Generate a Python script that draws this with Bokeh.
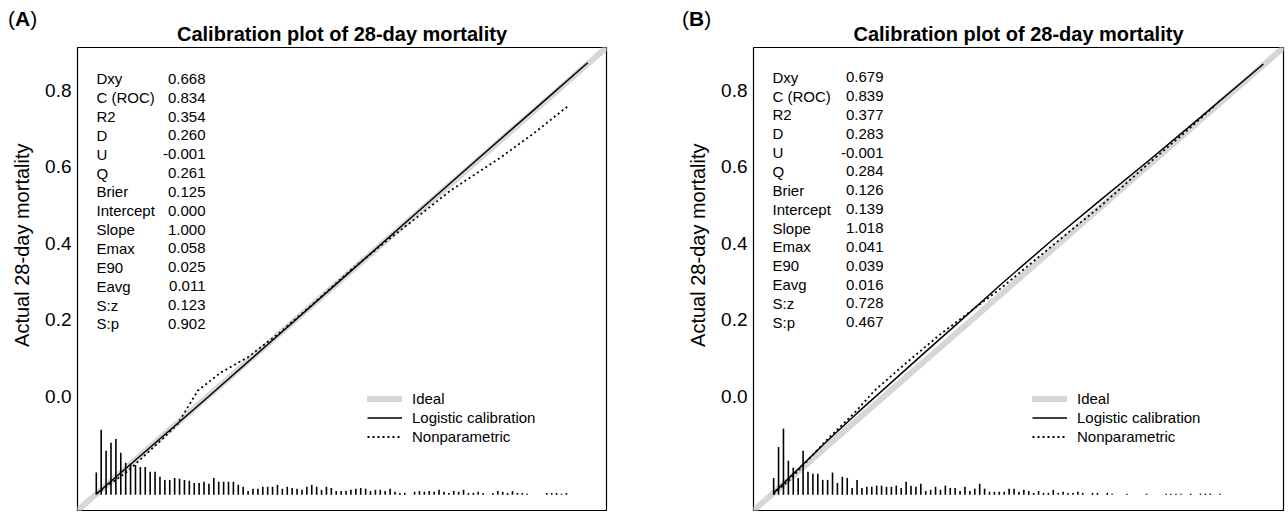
import math
from bokeh.plotting import figure
from bokeh.models import (ColumnDataSource, Legend, LegendItem, Range1d,
                          FixedTicker, PrintfTickFormatter, Title, Div)
from bokeh.layouts import row, column
from bokeh.embed import file_html
from bokeh.resources import INLINE
from bokeh.core.properties import value

# ---------------- data ----------------
title_text = "Calibration plot of 28-day mortality"
y_label = "Actual 28-day mortality"
panel_letters = ["A", "B"]
y_ticks = [0.0, 0.2, 0.4, 0.6, 0.8]
axis_lo, axis_hi = -0.298, 0.912

stat_names = ["Dxy", "C (ROC)", "R2", "D", "U", "Q", "Brier", "Intercept",
              "Slope", "Emax", "E90", "Eavg", "S:z", "S:p"]
stats_a = ["0.668", "0.834", "0.354", "0.260", "-0.001", "0.261", "0.125",
           "0.000", "1.000", "0.058", "0.025", "0.011", "0.123", "0.902"]
stats_b = ["0.679", "0.839", "0.377", "0.283", "-0.001", "0.284", "0.126",
           "0.139", "1.018", "0.041", "0.039", "0.016", "0.728", "0.467"]

ideal_x = [-0.40, 1.00]
ideal_y = [-0.40, 1.00]

# Panel A curves
logit_a_x = [-0.255, -0.150, 0.000, 0.150, 0.300, 0.450, 0.600, 0.750, 0.869]
logit_a_y = [-0.255, -0.151, -0.002, 0.149, 0.300, 0.452, 0.603, 0.753, 0.872]
nonpar_a_x = [-0.253, -0.192, -0.177, -0.101, -0.069, -0.023, 0.029, 0.091,
              0.166, 0.242, 0.326, 0.402, 0.475, 0.555, 0.669, 0.745, 0.825]
nonpar_a_y = [-0.253, -0.203, -0.189, -0.108, -0.072, 0.015, 0.062, 0.102,
              0.168, 0.243, 0.329, 0.400, 0.465, 0.538, 0.624, 0.687, 0.760]

# Panel B curves
logit_b_x = [-0.250, -0.136, -0.061, 0.015, 0.092, 0.168, 0.266, 0.380,
             0.494, 0.608, 0.723, 0.866]
logit_b_y = [-0.250, -0.123, -0.043, 0.035, 0.114, 0.191, 0.292, 0.405,
             0.513, 0.620, 0.730, 0.869]
nonpar_b_x = [-0.252, -0.214, -0.136, -0.061, -0.022, 0.054, 0.129, 0.229,
              0.266, 0.380, 0.494, 0.608, 0.684, 0.757]
nonpar_b_y = [-0.255, -0.216, -0.120, -0.035, 0.015, 0.091, 0.163, 0.250,
              0.282, 0.390, 0.497, 0.613, 0.687, 0.762]

# Distribution of predicted risk (spike heights)
spike_base = -0.257
spike_step = 0.0112
spike_start_a = -0.255
spike_start_b = -0.252
spikes_a = [0.058, 0.170, 0.115, 0.136, 0.146, 0.110, 0.084, 0.081, 0.078, 0.073,
            0.073, 0.060, 0.060, 0.047, 0.039, 0.039, 0.044, 0.042, 0.039, 0.037,
            0.031, 0.031, 0.034, 0.029, 0.044, 0.034, 0.034, 0.034, 0.034, 0.026,
            0.021, 0.010, 0.016, 0.016, 0.021, 0.021, 0.021, 0.026, 0.016, 0.021,
            0.018, 0.016, 0.013, 0.021, 0.026, 0.021, 0.013, 0.021, 0.018, 0.010,
            0.010, 0.010, 0.013, 0.016, 0.018, 0.016, 0.010, 0.013,
            0.013, 0.010, 0.016, 0.008, 0.005, 0.005, 0.000, 0.008, 0.010, 0.008,
            0.010, 0.008, 0.013, 0.008, 0.005, 0.010, 0.008, 0.013, 0.005, 0.005,
            0.008, 0.005, 0.000, 0.005, 0.010, 0.008, 0.005, 0.010, 0.005, 0.005,
            0.003, 0.000, 0.000, 0.000, 0.005, 0.005, 0.005, 0.003, 0.005]
spikes_b = [0.044, 0.125, 0.173, 0.089, 0.071, 0.044, 0.115, 0.060, 0.055, 0.055,
            0.039, 0.039, 0.058, 0.031, 0.047, 0.044, 0.018, 0.039, 0.018, 0.021,
            0.021, 0.024, 0.024, 0.021, 0.021, 0.024, 0.018, 0.034, 0.024, 0.021,
            0.029, 0.010, 0.013, 0.021, 0.013, 0.024, 0.018, 0.018, 0.010, 0.021,
            0.010, 0.016, 0.029, 0.016, 0.008, 0.008, 0.008, 0.008, 0.016, 0.016,
            0.008, 0.013, 0.010, 0.005, 0.010, 0.005, 0.005, 0.013,
            0.005, 0.008, 0.005, 0.005, 0.008, 0.005, 0.000, 0.005, 0.005, 0.000,
            0.005, 0.003, 0.000, 0.000, 0.003, 0.000, 0.000, 0.000, 0.003, 0.000,
            0.000, 0.000, 0.003, 0.003, 0.003, 0.003, 0.000, 0.003, 0.000, 0.003,
            0.003, 0.003, 0.000, 0.003]

FONT = "Liberation Sans"
FRAME_H = 463


def make_panel(stats, lx, ly, nx, ny, spikes, spike_start,
               fw, border_left, border_right, stat_top, val_right, leg_x):
    p = figure(frame_width=fw, frame_height=FRAME_H,
               min_border_left=border_left, min_border_right=border_right,
               min_border_top=47, min_border_bottom=2,
               x_range=Range1d(axis_lo, axis_hi), y_range=Range1d(axis_lo, axis_hi),
               x_axis_location=None, toolbar_location=None, output_backend="svg",
               title=title_text)
    p.title.align = "center"
    p.title.text_font = FONT
    p.title.text_font_size = "20px"
    p.title.text_font_style = "bold"
    p.title.text_color = "black"
    p.title.standoff = 5
    p.grid.visible = False
    p.outline_line_color = "black"
    p.outline_line_width = 1.2
    p.outline_line_alpha = 1.0
    p.background_fill_color = "white"
    p.border_fill_color = None

    ax = p.yaxis[0]
    ax.ticker = FixedTicker(ticks=y_ticks)
    ax.formatter = PrintfTickFormatter(format="%.1f")
    ax.axis_line_color = None
    ax.major_tick_line_color = None
    ax.minor_tick_line_color = None
    ax.major_tick_in = 0
    ax.major_tick_out = 0
    ax.major_label_standoff = 6
    ax.major_label_text_font = FONT
    ax.major_label_text_font_size = "19px"
    ax.major_label_text_color = "black"

    # y-axis title (left side, shifted upward like the original)
    p.add_layout(Title(text=y_label, align="right", offset=96,
                       vertical_align="top", standoff=16,
                       text_font=FONT, text_font_size="20px",
                       text_font_style="normal", text_color="black"), "left")

    span = axis_hi - axis_lo
    ppx = fw / span          # pixels per unit (x)
    ppy = FRAME_H / span     # pixels per unit (y)

    # ideal line
    r_ideal = p.line(ideal_x, ideal_y, line_color="#d6d6d6", line_width=6,
                     line_cap="round")
    # spikes
    sx = [spike_start + i * spike_step for i in range(len(spikes))]
    src = ColumnDataSource(dict(x=sx, y0=[spike_base] * len(spikes),
                                y1=[spike_base + h for h in spikes]))
    p.segment(x0="x", y0="y0", x1="x", y1="y1", source=src,
              line_color="black", line_width=1.6)
    # curves
    r_log = p.line(lx, ly, line_color="black", line_width=1.5)
    r_np = p.line(nx, ny, line_color="black", line_width=1.8, line_dash="2 3")

    # statistics block
    ys = [axis_hi - (stat_top + i * 18.85) / ppy for i in range(len(stat_names))]
    x_name = axis_lo + 19 / ppx
    x_val = axis_lo + val_right / ppx
    p.text(x=[x_name] * len(stat_names), y=ys, text=stat_names,
           text_font=value(FONT), text_font_size="15px", text_color="black",
           text_align="left", text_baseline="middle")
    p.text(x=[x_val] * len(stats), y=ys, text=stats,
           text_font=value(FONT), text_font_size="15px", text_color="black",
           text_align="right", text_baseline="middle")

    legend = Legend(items=[LegendItem(label="Ideal", renderers=[r_ideal]),
                           LegendItem(label="Logistic calibration", renderers=[r_log]),
                           LegendItem(label="Nonparametric", renderers=[r_np])],
                    location=(leg_x, 65), padding=0, margin=0, spacing=2,
                    glyph_height=17, label_height=17, glyph_width=35,
                    label_standoff=10, border_line_color=None,
                    background_fill_alpha=0,
                    label_text_font=FONT, label_text_font_size="15px",
                    label_text_color="black")
    p.add_layout(legend, "center")
    return p


def letter_div(letter, width, left_px):
    html = ('<div style="position:relative;left:%dpx;top:7px;'
            'font-family:\'Liberation Sans\',Arial,sans-serif;font-size:21px;'
            'line-height:24px;color:black;white-space:nowrap;">(<b>%s</b>)</div>'
            % (left_px, letter))
    return Div(text=html, width=width, height=47, margin=(0, 0, 0, 0))


pA = make_panel(stats_a, logit_a_x, logit_a_y, nonpar_a_x, nonpar_a_y,
                spikes_a, spike_start_a, fw=529, border_left=77, border_right=34,
                stat_top=31.3, val_right=128, leg_x=290)
pB = make_panel(stats_b, logit_b_x, logit_b_y, nonpar_b_x, nonpar_b_y,
                spikes_b, spike_start_b, fw=530, border_left=113, border_right=5,
                stat_top=29.7, val_right=130, leg_x=279)

letters = row(letter_div(panel_letters[0], 640, 8),
              letter_div(panel_letters[1], 648, 42),
              margin=(0, 0, -47, 0))
layout = column(letters, row(pA, pB))
open("out.html", "w").write(file_html(layout, INLINE))
